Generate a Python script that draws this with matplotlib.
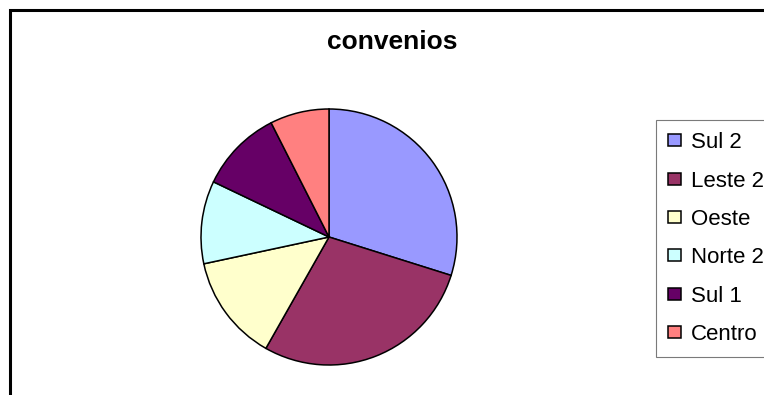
import matplotlib.pyplot as plt
from matplotlib.patches import Rectangle

# dados do gráfico
regioes = ['Sul 2', 'Leste 2', 'Oeste', 'Norte 2', 'Sul 1', 'Centro']
convenios = [20, 19, 9, 7, 7, 5]
cores = ['#9999FF', '#993366', '#FFFFCC', '#CCFFFF', '#660066', '#FF8080']

W, H = 764, 395
fig = plt.figure(figsize=(W / 100, H / 100), dpi=100)
plt.rcParams['font.family'] = ['Liberation Sans', 'DejaVu Sans']

# moldura da área do gráfico (sai pela direita e por baixo)
fig.patches.append(Rectangle((9.5 / W, -0.1), 1.2, 1.1 - 10.5 / H,
                             transform=fig.transFigure, fill=False,
                             edgecolor='black', linewidth=2.2))

# pizza: centro (329, 237), raio 128 px
cx, cy, r = 329, 237, 128
lim = 1.03
ax = fig.add_axes([(cx - r * lim) / W, (H - cy - r * lim) / H,
                   2 * r * lim / W, 2 * r * lim / H])
fatias, _ = ax.pie(convenios, colors=cores, startangle=90, counterclock=False,
                   wedgeprops=dict(edgecolor='black', linewidth=1.1))
ax.set_xlim(-lim, lim)
ax.set_ylim(-lim, lim)
ax.set_aspect('equal')
ax.axis('off')

fig.text(392 / W, 1 - 42 / H, 'convenios', ha='center', va='center',
         fontsize=19, fontweight='bold')

leg = fig.legend(fatias, regioes, loc='upper left',
                 bbox_to_anchor=(655.5 / W, 1 - 120 / H),
                 fontsize=16, frameon=True, fancybox=False,
                 handlelength=0.6, handleheight=0.45, handletextpad=0.45,
                 labelspacing=0.78, borderpad=0.55, borderaxespad=0)
leg.get_frame().set_edgecolor('0.35')
leg.get_frame().set_linewidth(0.8)

fig.savefig('out.png', dpi=100)
